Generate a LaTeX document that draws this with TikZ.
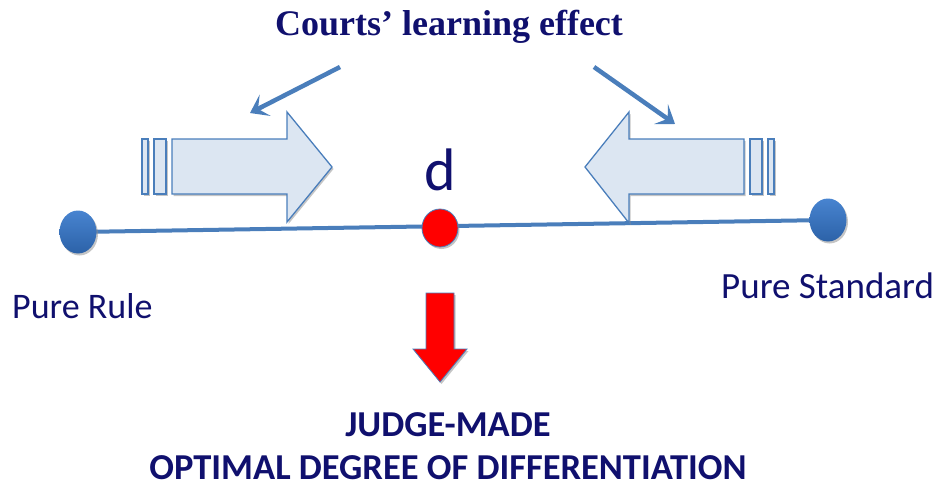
\documentclass[tikz,border=0pt]{standalone}
\usepackage{fontspec}
\setmainfont{Carlito}
\newfontfamily\titlefont{Liberation Serif}
\usetikzlibrary{arrows.meta,shadows,backgrounds,shapes.geometric}
\definecolor{navytext}{RGB}{16,16,110}
\definecolor{lineblue}{RGB}{74,126,187}
\definecolor{boxfill}{RGB}{220,230,242}
\definecolor{dotlight}{RGB}{72,132,208}
\definecolor{dotdark}{RGB}{44,98,168}
\tikzset{
  softshadow/.style={drop shadow={shadow xshift=1.5pt,shadow yshift=-2pt,fill=black!45,opacity=.5}},
  bigarrow/.style={draw=lineblue, line width=1.3pt, fill=boxfill, softshadow},
  learnarrow/.style={draw=lineblue, line width=4.5pt, -{Stealth[length=17pt,width=24pt,inset=8pt]}},
  enddot/.style={ellipse, minimum width=37pt, minimum height=43pt, inner sep=0pt,
    top color=dotlight, bottom color=dotdark, softshadow},
  mainline/.style={draw=lineblue, line width=4pt},
  labeltext/.style={text=navytext, font=\fontsize{36.5}{40}\selectfont, inner sep=0pt}
}
\begin{document}
\begin{tikzpicture}[x=1pt,y=-1pt]
    \useasboundingbox (0,0) rectangle (937,487);

    % Titolo
    \node[text=navytext, font=\titlefont\bfseries\fontsize{36}{40}\selectfont, anchor=base, inner sep=0pt]
      (title) at (449,36) {Courts’ learning effect};

    % Frecce dell'apprendimento
    \coordinate (leftStart) at (340,67);
    \coordinate (leftTip) at (250,113);
    \coordinate (rightStart) at (594,67);
    \coordinate (rightTip) at (675,124);
    \draw[learnarrow] (leftStart) -- (leftTip);
    \draw[learnarrow] (rightStart) -- (rightTip);

    % Freccia grande da sinistra
    \draw[bigarrow] (142,139) rectangle ++(6,55);
    \draw[bigarrow] (154,139) rectangle ++(12,55);
    \draw[bigarrow] (172,139) -- ++(115,0) -- ++(0,-27) -- ++(45,55) -- ++(-45,55) -- ++(0,-28) -- ++(-115,0) -- cycle;

    % Freccia grande da destra
    \draw[bigarrow] (768,139) rectangle ++(6,55);
    \draw[bigarrow] (750,139) rectangle ++(12,55);
    \draw[bigarrow] (744,139) -- ++(-115,0) -- ++(0,-27) -- ++(-44,55) -- ++(44,56) -- ++(0,-29) -- ++(115,0) -- cycle;

    % Punti sulla retta
    \node[enddot] (ruleDot) at (78,232) {};
    \node[enddot] (stdDot) at (828,220) {};
    \node[ellipse, minimum width=36pt, minimum height=38pt, inner sep=0pt,
      fill=red, draw=lineblue, line width=0.8pt, softshadow] (dDot) at (440,228) {};
    \begin{scope}[on background layer]
      \draw[mainline] (ruleDot.center) -- (stdDot.center);
    \end{scope}

    % Etichette
    \node[text=navytext, font=\fontsize{60}{60}\selectfont, anchor=base, inner sep=0pt] (dLabel) at (440,190) {d};
    \node[labeltext, font=\fontsize{36}{40}\selectfont, anchor=base west] (ruleLabel) at (12,318) {Pure Rule};
    \node[labeltext, font=\fontsize{37}{40}\selectfont, anchor=base west] (stdLabel) at (721,298) {Pure Standard};

    % Freccia rossa verso il basso
    \draw[fill=red, draw=lineblue, line width=0.8pt, softshadow]
      (426,293) -- ++(28,0) -- ++(0,56) -- ++(13,0) -- (440,382) -- (413,349) -- ++(13,0) -- cycle;

    \node[labeltext, font=\bfseries\fontsize{36.5}{43}\selectfont, align=center] (verdict) at (448,446)
      {JUDGE-MADE\\OPTIMAL DEGREE OF DIFFERENTIATION};
\end{tikzpicture}
\end{document}
